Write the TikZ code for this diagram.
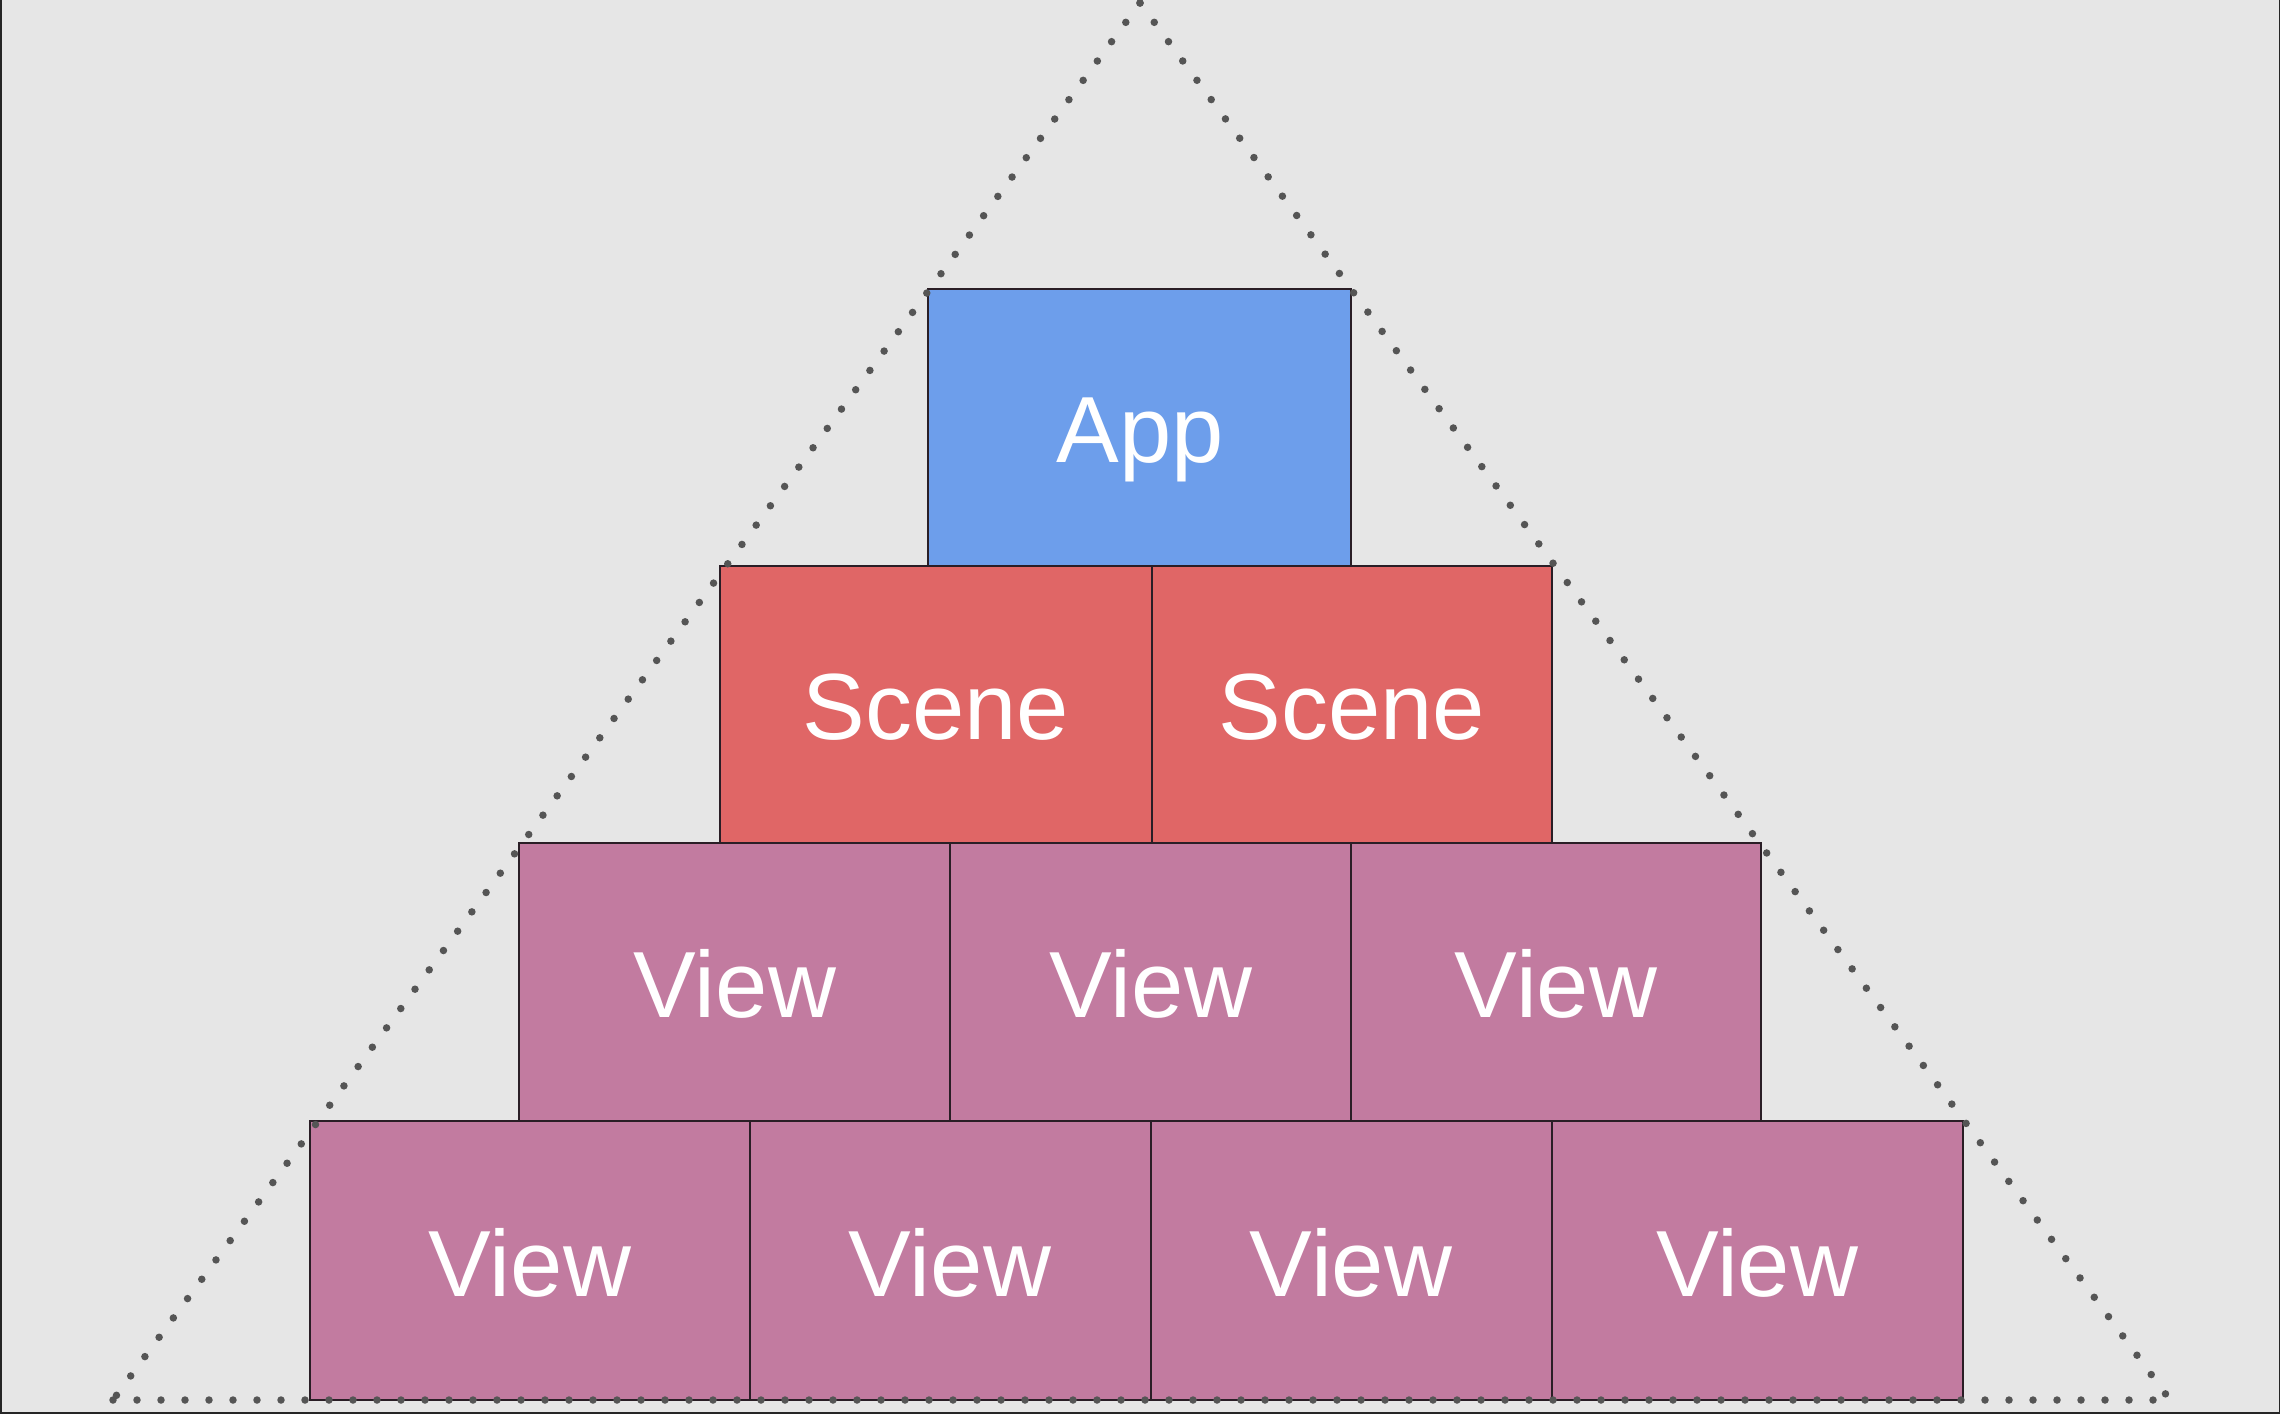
\documentclass[tikz,border=0pt]{standalone}
\usepackage{fontspec}
\setmainfont{Liberation Sans}
\definecolor{bgc}{HTML}{E6E6E6}
\definecolor{appc}{HTML}{6D9EEB}
\definecolor{scenec}{HTML}{E06666}
\definecolor{viewc}{HTML}{C27BA0}
\definecolor{edgec}{HTML}{2A1E26}
\definecolor{dotc}{HTML}{555555}
\begin{document}
\begin{tikzpicture}[x=1pt,y=-1pt,
  blockbox/.style={draw=edgec,line width=2pt},
  lbl/.style={text=white,font=\fontsize{94}{100}\selectfont,anchor=base,inner sep=0pt},
  dotline/.style={dotc,line width=7.5pt,line cap=round,dash pattern=on 0pt off 24pt}]
\useasboundingbox (0,0) rectangle (2280,1414);
\fill[bgc] (0,0) rectangle (2280,1414);
\fill[black!85] (0,0) rectangle (1.5,1414);
\fill[black!85] (2278.5,0) rectangle (2280,1414);
\fill[black!85] (0,1411.5) rectangle (2280,1414);
% coordinates of the triangle
\coordinate (apex) at (1140,3);
\coordinate (bl) at (113,1400);
\coordinate (br) at (2170,1400);
% top row
\filldraw[blockbox,fill=appc] (928,289) rectangle (1351,566);
\node[lbl] (app) at (1140,462) {App};
% scene row
\filldraw[blockbox,fill=scenec] (720,566) rectangle (1152,843);
\filldraw[blockbox,fill=scenec] (1152,566) rectangle (1552,843);
\node[lbl] (s1) at (936,739) {Scene};
\node[lbl] (s2) at (1352,739) {Scene};
% view row 1
\filldraw[blockbox,fill=viewc] (519,843) rectangle (950,1121);
\filldraw[blockbox,fill=viewc] (950,843) rectangle (1351,1121);
\filldraw[blockbox,fill=viewc] (1351,843) rectangle (1761,1121);
\node[lbl] (v1) at (735,1017) {View};
\node[lbl] (v2) at (1151,1017) {View};
\node[lbl] (v3) at (1556,1017) {View};
% view row 2
\filldraw[blockbox,fill=viewc] (310,1121) rectangle (750,1400);
\filldraw[blockbox,fill=viewc] (750,1121) rectangle (1151,1400);
\filldraw[blockbox,fill=viewc] (1151,1121) rectangle (1552,1400);
\filldraw[blockbox,fill=viewc] (1552,1121) rectangle (1963,1400);
\node[lbl] (w1) at (530,1296) {View};
\node[lbl] (w2) at (950,1296) {View};
\node[lbl] (w3) at (1351,1296) {View};
\node[lbl] (w4) at (1757,1296) {View};
% dotted triangle
\draw[dotline] (apex) -- (bl);
\draw[dotline] (apex) -- (br);
\draw[dotline] (bl) -- (br);
\end{tikzpicture}
\end{document}
